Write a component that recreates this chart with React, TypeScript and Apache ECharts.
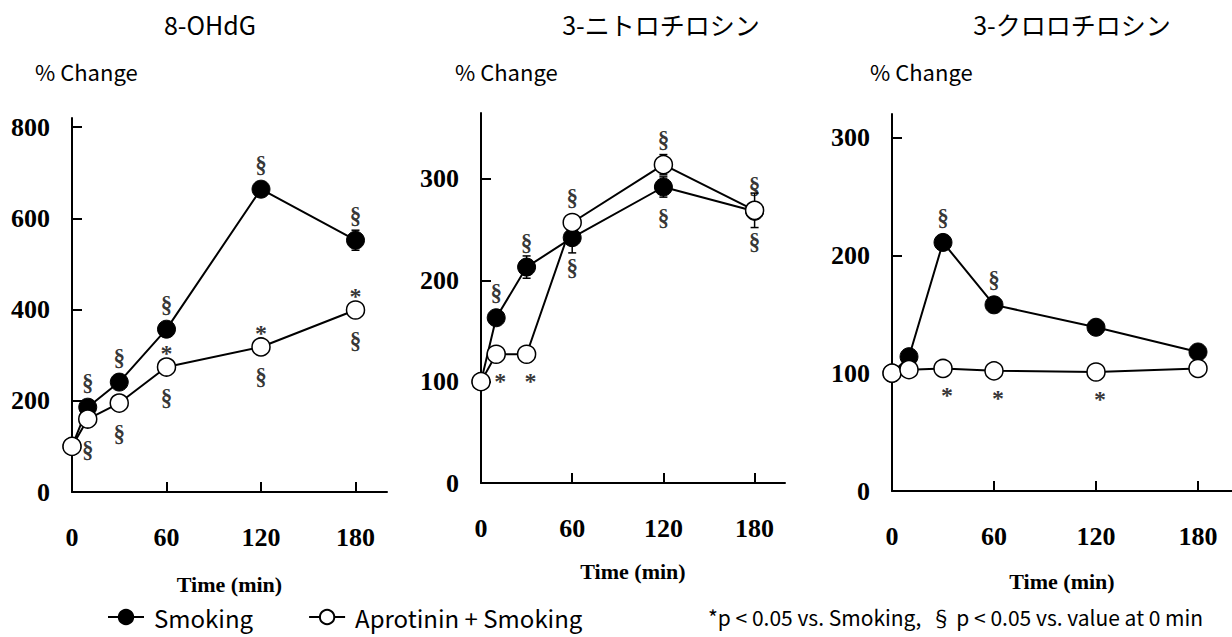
import React, { useEffect, useRef } from "react";
import * as echarts from "echarts";

// ---- data ----
const times = [0, 10, 30, 60, 120, 180];

const titles = ["8-OHdG", "3-ニトロチロシン", "3-クロロチロシン"];
const yAxisName = "% Change";
const xAxisName = "Time (min)";
const seriesNames = ["Smoking", "Aprotinin + Smoking"];
const footnote = "*p < 0.05 vs. Smoking,  § p < 0.05 vs. value at 0 min";

const xTicks = [0, 60, 120, 180];
const p1YTicks = [0, 200, 400, 600, 800];
const p2YTicks = [0, 100, 200, 300];
const p3YTicks = [0, 100, 200, 300];

const p1Smoking = [100, 186, 241, 357, 664, 552];
const p1Apro = [100, 160, 195, 274, 318, 399];
const p2Smoking = [100, 163, 213, 242, 292, 268];
const p2Apro = [100, 127, 127, 257, 314, 269];
const p3Smoking = [100, 114, 211, 158, 139, 118];
const p3Apro = [100, 103, 104, 102, 101, 104];

const p1SmokingErr = [0, 0, 0, 0, 0, 22];
const p1AproErr = [0, 0, 0, 0, 0, 0];
const p2SmokingErr = [0, 5, 11, 15, 10, 0];
const p2AproErr = [0, 0, 0, 0, 10, 17];
const p3SmokingErr = [0, 0, 0, 0, 0, 0];
const p3AproErr = [0, 0, 0, 0, 0, 0];

const p1SmokingAbove = ["", "§", "§", "§", "§", "§"];
const p1SmokingBelow = ["", "", "", "", "", ""];
const p1AproAbove = ["", "", "", "*", "*", "*"];
const p1AproBelow = ["", "§", "§", "§", "§", "§"];
const p2SmokingAbove = ["", "§", "§", "", "", ""];
const p2SmokingBelow = ["", "", "", "§", "§", "§"];
const p2AproAbove = ["", "", "", "§", "§", "§"];
const p2AproBelow = ["", "*", "*", "", "", ""];
const p3SmokingAbove = ["", "", "§", "§", "", ""];
const p3SmokingBelow = ["", "", "", "", "", ""];
const p3AproAbove = ["", "", "", "", "", ""];
const p3AproBelow = ["", "", "*", "*", "*", ""];

// ---- layout / style ----
const panels = [
  { grid: { left: 72, top: 118, width: 315, height: 374 }, yMax: 820, yTicks: p1YTicks, nameGap: 81,
    smoking: p1Smoking, apro: p1Apro, sErr: p1SmokingErr, aErr: p1AproErr,
    sAbove: p1SmokingAbove, sBelow: p1SmokingBelow, aAbove: p1AproAbove, aBelow: p1AproBelow,
    titleX: 210, changeX: 35 },
  { grid: { left: 481, top: 113, width: 304, height: 370 }, yMax: 365, yTicks: p2YTicks, nameGap: 77,
    smoking: p2Smoking, apro: p2Apro, sErr: p2SmokingErr, aErr: p2AproErr,
    sAbove: p2SmokingAbove, sBelow: p2SmokingBelow, aAbove: p2AproAbove, aBelow: p2AproBelow,
    titleX: 661, changeX: 455 },
  { grid: { left: 892, top: 114, width: 340, height: 377 }, yMax: 320, yTicks: p3YTicks, nameGap: 79,
    smoking: p3Smoking, apro: p3Apro, sErr: p3SmokingErr, aErr: p3AproErr,
    sAbove: p3SmokingAbove, sBelow: p3SmokingBelow, aAbove: p3AproAbove, aBelow: p3AproBelow,
    titleX: 1072, changeX: 870 },
];

const SERIF = "'Liberation Serif', 'Times New Roman', serif";
const SANS = "'Noto Sans CJK JP', 'Noto Sans', sans-serif";

function markLabel(mark: string, side: "above" | "below") {
  const isStar = mark === "*";
  let dy: number;
  let dx = 0;
  if (isStar) {
    dy = side === "above" ? -14 : 27;
    if (side === "below") dx = 4;
  } else {
    dy = side === "above" ? -25 : 30;
  }
  return {
    show: true,
    formatter: mark,
    position: "inside",
    offset: [dx, dy],
    color: "#000",
    fontFamily: SERIF,
    fontSize: isStar ? 24 : 23,
    fontWeight: "bold",
  };
}

function buildOption() {
  const grid: any[] = [];
  const xAxis: any[] = [];
  const yAxis: any[] = [];
  const series: any[] = [];
  const graphic: any[] = [];

  panels.forEach((p, i) => {
    grid.push({ ...p.grid, containLabel: false });
    xAxis.push({
      type: "value", gridIndex: i, min: 0, max: 200,
      name: xAxisName, nameLocation: "middle", nameGap: p.nameGap,
      nameTextStyle: { fontFamily: SERIF, fontWeight: "bold", fontSize: 22, color: "#000" },
      axisLine: { show: true, lineStyle: { color: "#000", width: 2 } },
      axisTick: { show: true, inside: true, length: 10, lineStyle: { color: "#000", width: 2 }, customValues: xTicks.filter((v) => v > 0) },
      axisLabel: { show: true, margin: 32, fontFamily: SERIF, fontWeight: "bold", fontSize: 26, color: "#000", customValues: xTicks },
      splitLine: { show: false },
    });
    yAxis.push({
      type: "value", gridIndex: i, min: 0, max: p.yMax,
      axisLine: { show: true, lineStyle: { color: "#000", width: 2 } },
      axisTick: { show: true, inside: true, length: 10, lineStyle: { color: "#000", width: 2 }, customValues: p.yTicks.filter((v) => v > 0) },
      axisLabel: { show: true, margin: 22, fontFamily: SERIF, fontWeight: "bold", fontSize: 26, color: "#000", customValues: p.yTicks },
      splitLine: { show: false },
    });

    const errData = (vals: number[], errs: number[]) =>
      times.map((t, k) => [t, vals[k] - errs[k], vals[k] + errs[k], errs[k]]).filter((d) => d[3] > 0);

    [
      [p.smoking, p.sErr],
      [p.apro, p.aErr],
    ].forEach(([vals, errs], k) => {
      series.push({
        type: "custom", name: `err-${i}-${k}`, xAxisIndex: i, yAxisIndex: i, z: 1,
        encode: { x: 0, y: [1, 2] }, silent: true,
        data: errData(vals as number[], errs as number[]),
        renderItem: (params: any, api: any) => {
          const x = api.value(0);
          const top = api.coord([x, api.value(2)]);
          const bot = api.coord([x, api.value(1)]);
          const w = 4;
          const st = { stroke: "#000", lineWidth: 1.5 };
          return {
            type: "group",
            children: [
              { type: "line", shape: { x1: top[0], y1: top[1], x2: bot[0], y2: bot[1] }, style: st },
              { type: "line", shape: { x1: top[0] - w, y1: top[1], x2: top[0] + w, y2: top[1] }, style: st },
              { type: "line", shape: { x1: bot[0] - w, y1: bot[1], x2: bot[0] + w, y2: bot[1] }, style: st },
            ],
          };
        },
      });
    });

    series.push({
      type: "line", name: seriesNames[0], xAxisIndex: i, yAxisIndex: i, z: 2,
      data: times.map((t, k) => [t, p.smoking[k]]),
      symbol: "circle", symbolSize: 18, showAllSymbol: true,
      lineStyle: { color: "#000", width: 2 },
      itemStyle: { color: "#000", borderColor: "#000", borderWidth: 1 },
      emphasis: { disabled: true },
    });
    series.push({
      type: "line", name: seriesNames[1], xAxisIndex: i, yAxisIndex: i, z: 3,
      data: times.map((t, k) => [t, p.apro[k]]),
      symbol: "circle", symbolSize: 18, showAllSymbol: true,
      lineStyle: { color: "#000", width: 2 },
      itemStyle: { color: "#fff", borderColor: "#000", borderWidth: 1.5 },
      emphasis: { disabled: true },
    });

    const ann = (vals: number[], marks: string[], side: "above" | "below", name: string) => ({
      type: "scatter", name, xAxisIndex: i, yAxisIndex: i, z: 4, silent: true,
      symbolSize: 1, itemStyle: { color: "transparent" },
      data: times
        .map((t, k) => ({ value: [t, vals[k]], mark: marks[k] }))
        .filter((d) => d.mark !== "")
        .map((d) => ({ value: d.value, label: markLabel(d.mark, side) })),
    });
    series.push(ann(p.smoking, p.sAbove, "above", `sa-${i}`));
    series.push(ann(p.smoking, p.sBelow, "below", `sb-${i}`));
    series.push(ann(p.apro, p.aAbove, "above", `aa-${i}`));
    series.push(ann(p.apro, p.aBelow, "below", `ab-${i}`));

    graphic.push({
      type: "text", x: p.titleX, y: 24,
      style: { text: titles[i], fontFamily: SANS, fontSize: 25, fill: "#000", align: "center", verticalAlign: "middle" },
    });
    graphic.push({
      type: "text", x: p.changeX, y: 71,
      style: { text: yAxisName, fontFamily: SANS, fontSize: 22, fill: "#000", align: "left", verticalAlign: "middle" },
    });
  });

  graphic.push({
    type: "text", x: 708, y: 617,
    style: { text: footnote, fontFamily: SANS, fontSize: 21, fill: "#000", align: "left", verticalAlign: "middle" },
  });

  return {
    animation: false,
    backgroundColor: "#fff",
    grid, xAxis, yAxis, series, graphic,
    legend: {
      data: seriesNames,
      left: 102, top: 600,
      itemWidth: 36, itemHeight: 18, itemGap: 55,
      selectedMode: false,
      textStyle: { fontFamily: SANS, fontSize: 24, color: "#000", padding: [0, 0, 0, 5] },
    },
  };
}

export default function App() {
  const ref = useRef<HTMLDivElement>(null);
  useEffect(() => {
    if (!ref.current) return;
    const chart = echarts.init(ref.current, undefined, { renderer: "svg" });
    chart.setOption(buildOption() as any);
    return () => chart.dispose();
  }, []);
  return (
    <div
      ref={ref}
      style={{ position: "fixed", left: 0, top: 0, width: 1232, height: 637, background: "#fff" }}
    />
  );
}
